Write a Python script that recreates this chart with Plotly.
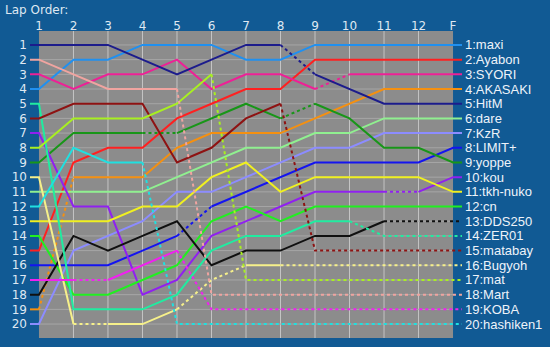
import plotly.graph_objects as go

lap_labels = ["1", "2", "3", "4", "5", "6", "7", "8", "9", "10", "11", "12", "F"]

names = ["maxi", "Ayabon", "SYORI", "AKASAKI", "HitM", "dare", "KzR", "LIMIT+", "yoppe", "kou",
         "tkh-nuko", "cn", "DDS250", "ZER01", "matabay", "Bugyoh", "mat", "Mart", "KOBA", "hashiken1"]

colors = ["#2090f0", "#ff2020", "#ee2096", "#f59010", "#1c1c8c", "#90f090", "#8c8cff", "#1414f0",
          "#189618", "#9020f0", "#f0f020", "#20f020", "#101010", "#20eca0", "#8e1212", "#f6f08a",
          "#a8f020", "#f0a4a0", "#f020f0", "#20e0e0"]

# race position of each driver at laps 1..12 and finish
positions = [
    [4, 2, 2, 1, 1, 1, 2, 2, 1, 1, 1, 1, 1],
    [15, 9, 8, 8, 6, 5, 4, 4, 2, 2, 2, 2, 2],
    [3, 4, 3, 3, 2, 4, 3, 3, 4, 3, 3, 3, 3],
    [19, 10, 10, 10, 8, 7, 7, 7, 6, 5, 4, 4, 4],
    [1, 1, 1, 2, 3, 2, 1, 1, 3, 4, 5, 5, 5],
    [11, 11, 11, 11, 10, 9, 8, 8, 7, 7, 6, 6, 6],
    [20, 15, 14, 13, 11, 11, 10, 9, 8, 8, 7, 7, 7],
    [16, 16, 16, 15, 14, 12, 11, 10, 9, 9, 9, 9, 8],
    [9, 7, 7, 7, 7, 6, 5, 6, 5, 6, 8, 8, 9],
    [7, 12, 12, 18, 17, 14, 13, 12, 11, 11, 11, 11, 10],
    [13, 13, 13, 12, 12, 10, 9, 11, 10, 10, 10, 10, 11],
    [14, 18, 18, 17, 16, 13, 12, 13, 12, 12, 12, 12, 12],
    [18, 14, 15, 14, 13, 16, 15, 15, 14, 14, 13, 13, 13],
    [5, 19, 19, 19, 18, 15, 14, 14, 13, 13, 14, 14, 14],
    [6, 5, 5, 5, 9, 8, 6, 5, 15, 15, 15, 15, 15],
    [10, 20, 20, 20, 19, 17, 16, 16, 16, 16, 16, 16, 16],
    [8, 6, 6, 6, 5, 3, 17, 17, 17, 17, 17, 17, 17],
    [2, 3, 4, 4, 4, 18, 18, 18, 18, 18, 18, 18, 18],
    [17, 17, 17, 16, 15, 19, 19, 19, 19, 19, 19, 19, 19],
    [12, 8, 9, 9, 20, 20, 20, 20, 20, 20, 20, 20, 20],
]

# segments (index i = lap i+1 -> lap i+2) drawn dotted (no lap data)
dotted_segments = [
    [], [], [8], [0], [7], [], [], [4], [3, 7], [10],
    [], [], [10, 11], [9, 10, 11], [7, 8, 9, 10, 11], [1, 4, 5, 7, 8, 9, 10, 11],
    [5, 6, 7, 8, 9, 10, 11], [4, 5, 6, 7, 8, 9, 10, 11], [1, 4, 5, 6, 7, 8, 9, 10, 11],
    [3, 4, 5, 6, 7, 8, 9, 10, 11],
]

BG = "#115a94"
GRAY = "#8c8c8c"
TXT = "#dfe8f2"
n_laps = len(lap_labels)
x_lo, x_hi = 0.74, n_laps + 0.26

fig = go.Figure()

for name, col, pos, dots in zip(names, colors, positions, dotted_segments):
    xs = list(range(1, n_laps + 1))
    segs = [((x_lo, pos[0]), (1, pos[0]), False)]
    for i in range(n_laps - 1):
        segs.append(((xs[i], pos[i]), (xs[i + 1], pos[i + 1]), i in dots))
    segs.append(((n_laps, pos[-1]), (x_hi, pos[-1]), (n_laps - 2) in dots))
    groups = []
    for s in segs:
        if groups and groups[-1][0] == s[2]:
            groups[-1][1].append(s[1])
        else:
            groups.append([s[2], [s[0], s[1]]])
    for dotted, pts in groups:
        fig.add_trace(go.Scatter(
            x=[p[0] for p in pts], y=[p[1] for p in pts], mode="lines",
            line=dict(color=col, width=2, dash="dot" if dotted else "solid"),
            hoverinfo="skip", showlegend=False, cliponaxis=False))
    fig.add_annotation(x=x_hi, y=pos[-1], xref="x", yref="y", text=f"{pos[-1]}:{name}",
                       showarrow=False, xanchor="left", yanchor="middle", xshift=1,
                       font=dict(family="Liberation Sans, Arial", size=13, color="#eef3fa"))

shapes = [dict(type="rect", xref="x", yref="paper", x0=1, x1=n_laps, y0=0, y1=1,
               fillcolor=GRAY, line=dict(width=0), layer="below")]
for r in range(1, 21):
    shapes.append(dict(type="line", xref="x", yref="y", x0=1, x1=n_laps, y0=r, y1=r,
                       line=dict(color="#a6a6a6", width=1), layer="below"))
for l in range(2, n_laps):
    shapes.append(dict(type="line", xref="x", yref="paper", x0=l, x1=l, y0=0, y1=1,
                       line=dict(color="#c4c4c4", width=1), layer="below"))

fig.add_annotation(xref="paper", yref="paper", x=-0.062, y=1.068, text="Lap Order:",
                   showarrow=False, xanchor="left", yanchor="middle",
                   font=dict(family="DejaVu Sans, Verdana", size=12, color=TXT))

fig.update_layout(
    width=550, height=347,
    margin=dict(l=30, r=88, t=31, b=9),
    paper_bgcolor=BG, plot_bgcolor=BG,
    shapes=shapes,
    xaxis=dict(range=[x_lo, x_hi], side="top", tickmode="array",
               tickvals=list(range(1, n_laps + 1)), ticktext=lap_labels,
               showgrid=False, zeroline=False, showline=False, ticks="",
               ticklabelstandoff=-2,
               tickfont=dict(family="DejaVu Sans, Verdana", size=12, color=TXT)),
    yaxis=dict(range=[20.95, 0.05], tickmode="array", tickvals=list(range(1, 21)),
               ticktext=[str(i) for i in range(1, 21)],
               showgrid=False, zeroline=False, showline=False, ticks="",
               ticklabelstandoff=2,
               tickfont=dict(family="DejaVu Sans, Verdana", size=12, color=TXT)),
)

fig.write_html("out.html")
